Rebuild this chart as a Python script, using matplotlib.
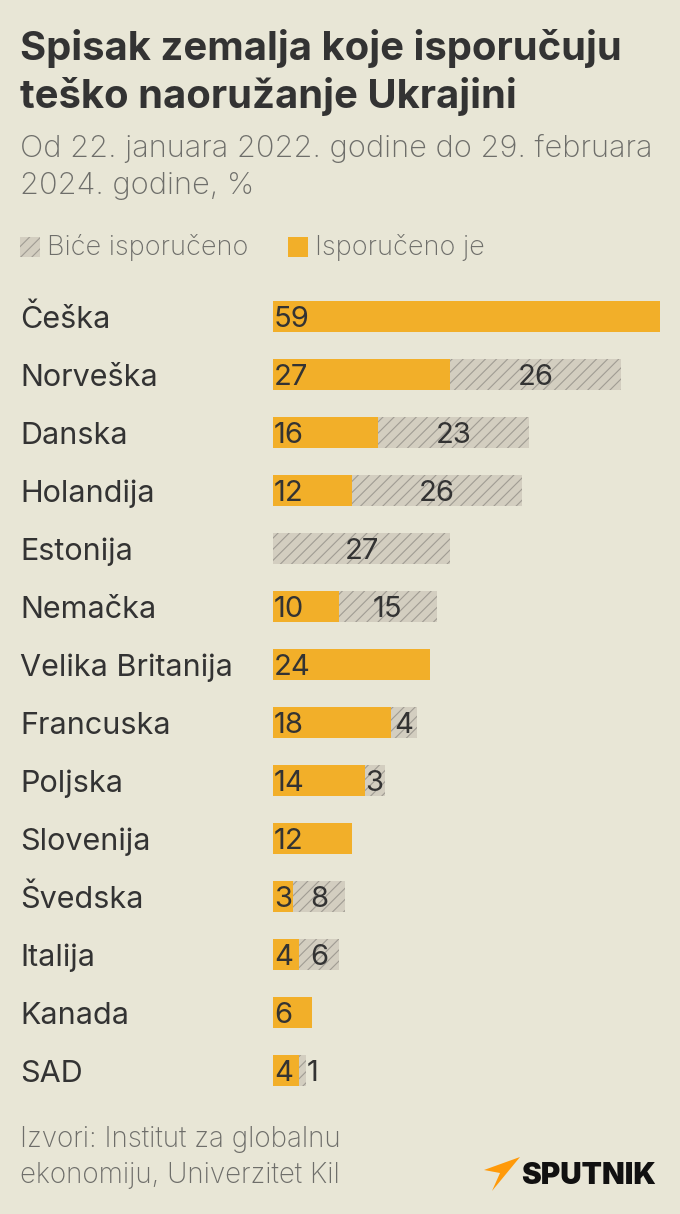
import matplotlib
matplotlib.use('Agg')
import matplotlib.pyplot as plt
from matplotlib.patches import Polygon

# Data
countries = ['Češka', 'Norveška', 'Danska', 'Holandija', 'Estonija', 'Nemačka',
             'Velika Britanija', 'Francuska', 'Poljska', 'Slovenija', 'Švedska',
             'Italija', 'Kanada', 'SAD']
delivered = [59, 27, 16, 12, 0, 10, 24, 18, 14, 12, 3, 4, 6, 4]
to_deliver = [0, 26, 23, 26, 27, 15, 0, 4, 3, 0, 8, 6, 0, 1]

bg = '#e8e6d6'
orange = '#f2af29'
hatch_bg = '#d3cec0'
hatch_line = '#a09c93'
dark = '#333333'
grey = '#6e6e6a'

W, H = 680, 1214
plt.rcParams['font.family'] = ['Inter', 'DejaVu Sans']
plt.rcParams['hatch.linewidth'] = 0.8

fig = plt.figure(figsize=(W / 100, H / 100), dpi=100, facecolor=bg)


def fx(x):
    return x / W


def fy(y):
    return 1 - y / H


# bar area: x 273..660 px for 0..59, rows 58 px apart starting at 287.5
top, bottom = 287.5, 287.5 + 58 * len(countries)
ax = fig.add_axes([fx(273), fy(bottom), fx(660) - fx(273), (bottom - top) / H])
ax.set_facecolor('none')
ax.set_xlim(0, 59)
ax.set_ylim(len(countries) - 0.5, -0.5)
ax.axis('off')

ypos = list(range(len(countries)))
ax.barh(ypos, delivered, height=0.52, color=orange, linewidth=0)
ax.barh(ypos, to_deliver, left=delivered, height=0.52, color=hatch_bg,
        edgecolor=hatch_line, hatch='///', linewidth=0)

vsize = 21
for i, (d, t) in enumerate(zip(delivered, to_deliver)):
    if d > 0:
        ax.text(0.15, i, str(d), ha='left', va='center_baseline', fontsize=vsize, color=dark)
    if t > 0:
        if t < 2:
            ax.text(d + t + 0.15, i, str(t), ha='left', va='center_baseline', fontsize=vsize, color=dark)
        else:
            ax.text(d + t / 2, i, str(t), ha='center', va='center_baseline', fontsize=vsize, color=dark)

# country labels
for i, c in enumerate(countries):
    fig.text(fx(20), fy(316.5 + 58 * i), c, ha='left', va='center_baseline', fontsize=22,
             color=dark)

# title and subtitle
fig.text(fx(20), fy(60), 'Spisak zemalja koje isporučuju', fontsize=28.8, fontweight='bold',
         color=dark, va='baseline')
fig.text(fx(20), fy(108), 'teško naoružanje Ukrajini', fontsize=28.8, fontweight='bold',
         color=dark, va='baseline')
fig.text(fx(20), fy(157), 'Od 22. januara 2022. godine do 29. februara', fontsize=22.2,
         fontweight='light', color=grey, va='baseline')
fig.text(fx(20), fy(194), '2024. godine, %', fontsize=22.2, fontweight='light',
         color=grey, va='baseline')

# legend
leg_ax = fig.add_axes([0, 0, 1, 1])
leg_ax.set_xlim(0, W)
leg_ax.set_ylim(H, 0)
leg_ax.axis('off')
leg_ax.add_patch(plt.Rectangle((20, 237), 20, 20, facecolor=hatch_bg, edgecolor=hatch_line,
                               hatch='///', linewidth=0))
leg_ax.add_patch(plt.Rectangle((288, 237), 20, 20, facecolor=orange, linewidth=0))
fig.text(fx(47), fy(255), 'Biće isporučeno', fontsize=19.5, fontweight='light', color=grey,
         va='baseline')
fig.text(fx(315), fy(255), 'Isporučeno je', fontsize=19.5, fontweight='light', color=grey,
         va='baseline')

# footer
fig.text(fx(20), fy(1147), 'Izvori: Institut za globalnu', fontsize=20, fontweight='light',
         color=grey, va='baseline')
fig.text(fx(20), fy(1183), 'ekonomiju, Univerzitet Kil', fontsize=20, fontweight='light',
         color=grey, va='baseline')

# sputnik logo
leg_ax.add_patch(Polygon([(520, 1157), (484, 1170), (500, 1173), (492, 1191)],
                         closed=True, facecolor='#ff9a0a', linewidth=0))
fig.text(fx(521), fy(1184), 'SPUTNIK', fontsize=21.4, fontweight='black', color='#111111',
         va='baseline')

fig.savefig('out.png', dpi=100, facecolor=bg)
